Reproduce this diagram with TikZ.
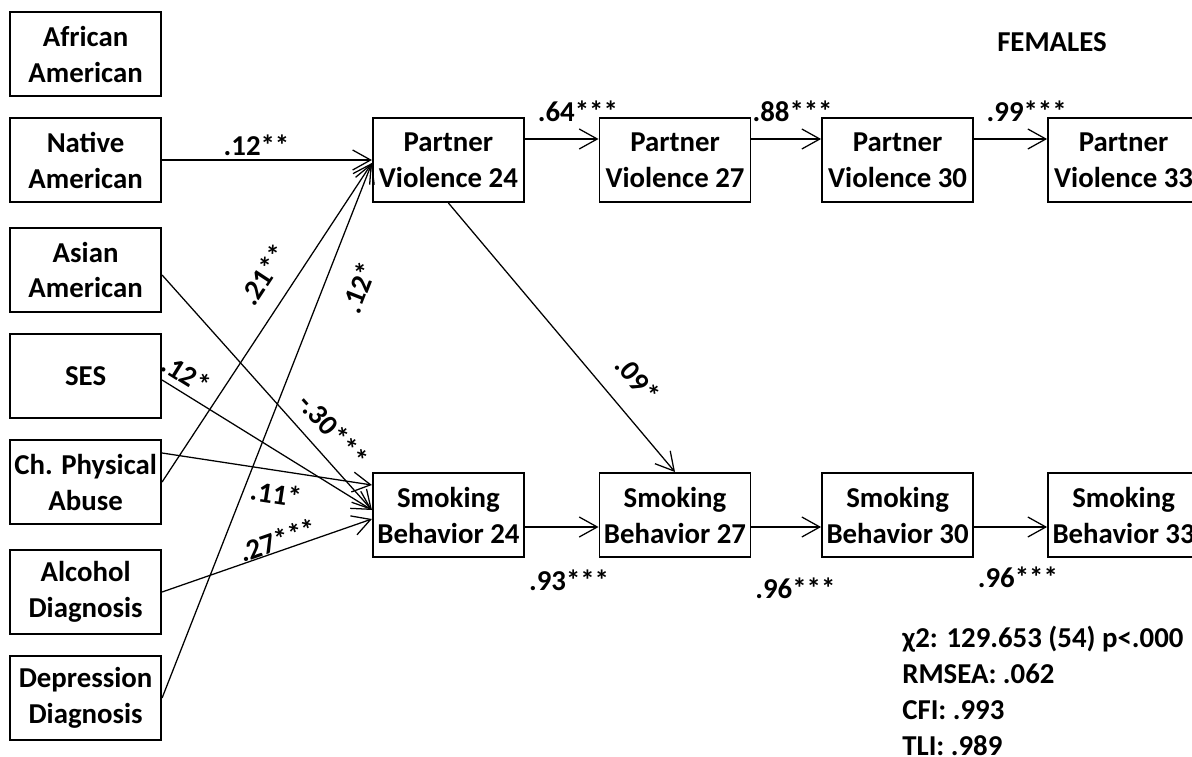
\documentclass[tikz,border=0pt]{standalone}
\usepackage{fontspec}
\setmainfont{Carlito}
\usetikzlibrary{arrows.meta,positioning}

\begin{document}
\begin{tikzpicture}[
	var/.style={
		draw=black,
		line width=1.4pt,
		minimum width=3.775cm,
		minimum height=2.1cm,
		inner sep=0pt,
		align=center,
		font=\fontsize{20.5}{25.6}\selectfont\bfseries
	},
	coef/.style={
		inner sep=0pt,
		font=\fontsize{20.5}{25.6}\selectfont\bfseries
	},
	link/.style={
		-{Straight Barb[length=4.5mm,width=5mm]},
		line width=0.9pt,
		draw=black
	}
	]
	
	\useasboundingbox (0,0) rectangle (29.8,18.9);
	
	% Predictors
	\node[var] (african) at (2.14,17.54) {African\\American};
	\node[var] (native) at (2.14,14.9) {Native\\American};
	\node[var] (asian) at (2.14,12.15) {Asian\\American};
	\node[var] (ses) at (2.14,9.5) {SES};
	\node[var] (abuse) at (2.14,6.85) {Ch. Physical\\Abuse};
	\node[var] (alcohol) at (2.14,4.1) {Alcohol\\Diagnosis};
	\node[var] (depr) at (2.14,1.45) {Depression\\Diagnosis};
	
	% Partner violence
	\node[var] (pv24) at (11.21,14.9) {Partner\\Violence 24};
	\node[var] (pv27) at (16.875,14.9) {Partner\\Violence 27};
	\node[var] (pv30) at (22.44,14.9) {Partner\\Violence 30};
	\node[var] (pv33) at (28.09,14.9) {Partner\\Violence 33};
	
	% Smoking
	\node[var] (sb24) at (11.21,6.025) {Smoking\\Behavior 24};
	\node[var] (sb27) at (16.875,6.025) {Smoking\\Behavior 27};
	\node[var] (sb30) at (22.44,6.025) {Smoking\\Behavior 30};
	\node[var] (sb33) at (28.09,6.025) {Smoking\\Behavior 33};
	
	% Title and fit
	\node[coef] (title) at (26.3,17.85) {FEMALES};
	\node[coef,align=left,anchor=north west] (fit) at (22.55,3.25) {%
		χ2: 129.653 (54) p<.000\\
		RMSEA: .062\\
		CFI: .993\\
		TLI: .989
	};
	
	% Paths to partner violence
	\draw[link] (native.east) -- node[coef,above=1mm,pos=0.45] {.12**} (pv24.west);
	\draw[link] (abuse.east) -- node[coef,sloped,above=4.5mm,pos=0.6] {.21**} ([yshift=-0.75mm]pv24.west);
	\draw[link] (depr.east) -- node[coef,sloped,below=5.6mm,pos=0.79] {.12*} ([yshift=-0.75mm]pv24.west);
	
	% Paths to smoking
	\draw[link] ([yshift=-1.25mm]asian.east) -- node[coef,sloped,above=3.3mm,pos=0.73] {-.30***} ([yshift=1.25mm]sb24.west);
	\draw[link] ([yshift=-1mm]ses.east) -- node[coef,sloped,above=1.7mm,pos=0.07] {.12*} ([yshift=1.25mm]sb24.west);
	\draw[link] ([yshift=7.25mm]abuse.east) -- node[coef,sloped,below=3mm,pos=0.56] {.11*} ([yshift=7.5mm]sb24.west);
	\draw[link] (alcohol.east) -- node[coef,sloped,above=0mm,pos=0.57] {.27***} ([yshift=-1mm]sb24.west);
	\draw[link] (pv24.south) -- node[coef,sloped,above=5.1mm,pos=0.73] {.09*} (sb27.north);
	
	% Stability paths
	\draw[link] ([yshift=5.25mm]pv24.east) -- node[coef,above=4.2mm,pos=0.72] {.64***} ([yshift=5.25mm]pv27.west);
	\draw[link] ([yshift=5.25mm]pv27.east) -- node[coef,above=4.2mm,pos=0.59] {.88***} ([yshift=5.25mm]pv30.west);
	\draw[link] ([yshift=5.25mm]pv30.east) -- node[coef,above=4.2mm,pos=0.72] {.99***} ([yshift=5.25mm]pv33.west);
	\draw[link] ([yshift=-3mm]sb24.east) -- node[coef,below=10.5mm,pos=0.6] {.93***} ([yshift=-3mm]sb27.west);
	\draw[link] ([yshift=-3mm]sb27.east) -- node[coef,below=12.5mm,pos=0.63] {.96***} ([yshift=-3mm]sb30.west);
	\draw[link] ([yshift=-3mm]sb30.east) -- node[coef,below=9.7mm,pos=0.6] {.96***} ([yshift=-3mm]sb33.west);
	
\end{tikzpicture}
\end{document}
